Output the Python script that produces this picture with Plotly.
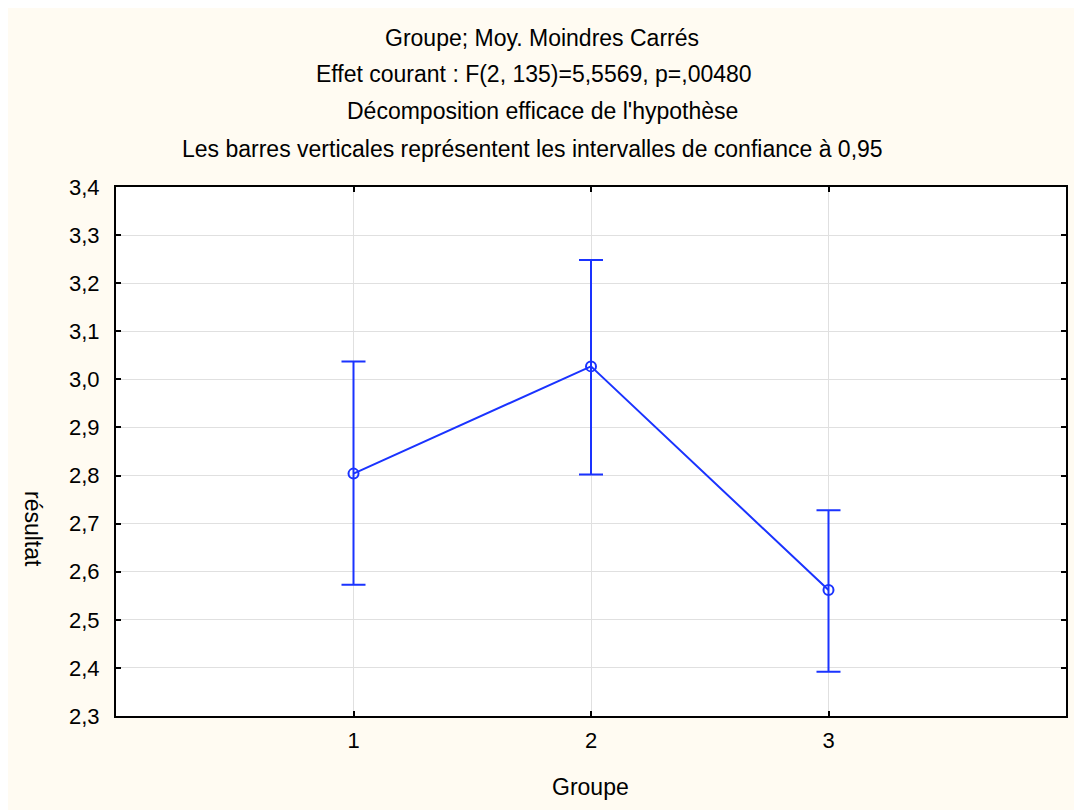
import plotly.graph_objects as go

groups = [1, 2, 3]
means = [2.804, 3.027, 2.562]
ci_upper = [3.037, 3.248, 2.728]
ci_lower = [2.573, 2.802, 2.392]
y_ticks = [2.3, 2.4, 2.5, 2.6, 2.7, 2.8, 2.9, 3.0, 3.1, 3.2, 3.3, 3.4]

title_lines = [
    "Groupe; Moy. Moindres Carrés",
    "Effet courant : F(2, 135)=5,5569, p=,00480",
    "Décomposition efficace de l'hypothèse",
    "Les barres verticales représentent les intervalles de confiance à 0,95",
]

OFF = 8  # page body margin
W, H = 1082 - OFF, 810 - OFF
# plot area in screen pixels
SL, SR, ST, SB = 116, 1066, 187, 716
L, R, T, B = SL - OFF, SR - OFF, ST - OFF, SB - OFF
PW, PH = R - L, B - T


def px(x):  # screen px -> paper
    return (x - SL) / PW


def py(y):
    return (SB - y) / PH


BLUE = "#1a33ff"
CREAM = "#fffbf2"
FONT = "Liberation Sans, Arial, sans-serif"

err_plus = [u - m for u, m in zip(ci_upper, means)]
err_minus = [m - l for m, l in zip(means, ci_lower)]

fig = go.Figure()
fig.add_trace(go.Scatter(
    x=groups, y=means, mode="lines+markers",
    line=dict(color=BLUE, width=2),
    marker=dict(symbol="circle-open", size=10, color=BLUE, line=dict(width=2, color=BLUE)),
    error_y=dict(type="data", symmetric=False, array=err_plus, arrayminus=err_minus,
                 color=BLUE, thickness=2, width=12),
    showlegend=False,
))

title_pos = [(542, 38), (534, 74), (542, 111), (532, 149)]
annotations = []
for txt, (cx, cy) in zip(title_lines, title_pos):
    annotations.append(dict(text=txt, x=px(cx), y=py(cy), xref="paper", yref="paper",
                            xanchor="center", yanchor="middle", showarrow=False,
                            font=dict(size=23, color="black", family=FONT)))
annotations.append(dict(text="Groupe", x=px(590), y=py(787), xref="paper", yref="paper",
                        xanchor="center", yanchor="middle", showarrow=False,
                        font=dict(size=23, color="black", family=FONT)))
annotations.append(dict(text="résultat", x=px(33), y=py(529), xref="paper", yref="paper",
                        xanchor="center", yanchor="middle", showarrow=False, textangle=90,
                        font=dict(size=23, color="black", family=FONT)))

fig.update_layout(
    width=W, height=H,
    margin=dict(l=L, r=W - R, t=T, b=H - B, autoexpand=False),
    paper_bgcolor=CREAM, plot_bgcolor="white",
    separators=", ",
    font=dict(family=FONT, size=22, color="black"),
    annotations=annotations,
    xaxis=dict(range=[0, 4], tickvals=groups, ticktext=[str(g) for g in groups],
               showgrid=True, gridcolor="#e0e0e0", gridwidth=1, zeroline=False,
               showline=True, linecolor="black", linewidth=2, mirror="allticks",
               ticks="inside", ticklen=5, tickwidth=2, tickcolor="black",
               ticklabelstandoff=4,
               tickfont=dict(size=22, family=FONT)),
    yaxis=dict(range=[2.3, 3.4], tickvals=y_ticks, tickformat=".1f",
               showgrid=True, gridcolor="#e0e0e0", gridwidth=1, zeroline=False,
               showline=True, linecolor="black", linewidth=2, mirror="allticks",
               ticks="inside", ticklen=5, tickwidth=2, tickcolor="black",
               ticklabelstandoff=10,
               tickfont=dict(size=22, family=FONT)),
)

fig.write_html("out.html")
